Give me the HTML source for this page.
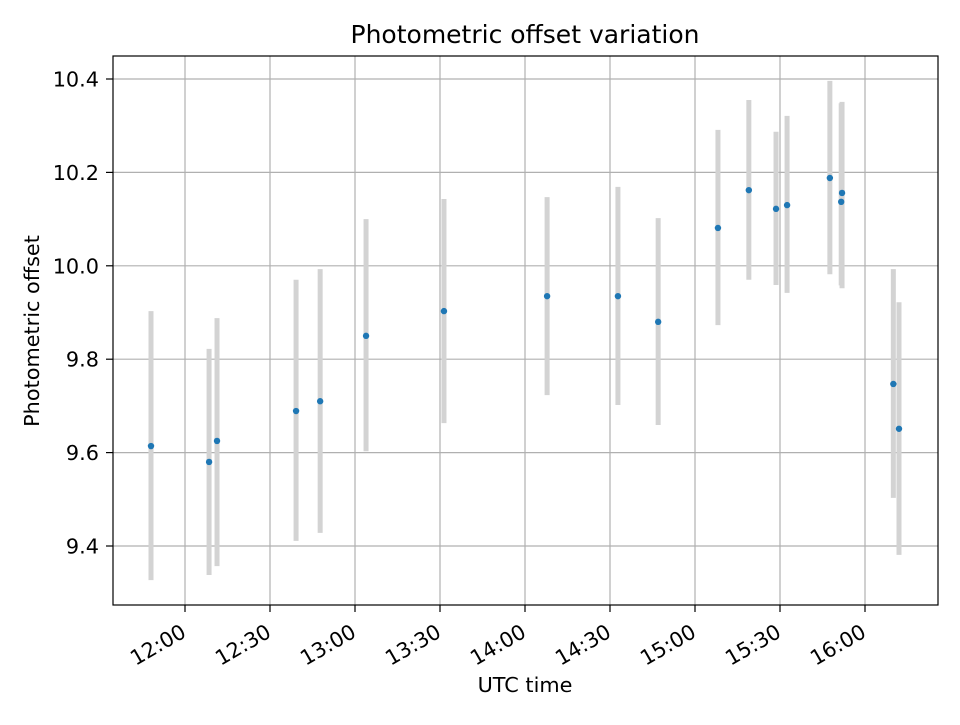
<!DOCTYPE html>
<html><head><meta charset="utf-8"><style>
body{margin:0;background:#fff;font-family:"Liberation Sans","DejaVu Sans",sans-serif}
</style></head><body>
<svg width="960" height="720" xmlns="http://www.w3.org/2000/svg" font-family="'DejaVu Sans','Liberation Sans',sans-serif">
<rect width="960" height="720" fill="#fff"/>
<g id="grid"></g><g id="bars"></g><g id="pts"></g>
<rect x="113" y="56" width="825" height="549" fill="none" stroke="#000" stroke-width="1.2"/>
<g id="axes"></g>
<text x="525" y="43" text-anchor="middle" font-size="25">Photometric offset variation</text>
<text x="525" y="692" text-anchor="middle" font-size="20.8">UTC time</text>
<text transform="translate(39,331) rotate(-90)" text-anchor="middle" font-size="20.8">Photometric offset</text>
</svg>
<script>
// minutes after 12:00 UTC
const times=[-12,8.5,11.3,39.2,47.7,63.9,91.4,127.8,152.8,167,188.1,199,208.6,212.5,227.6,231.9,231.6,250,252];
const values=[9.614,9.580,9.625,9.689,9.710,9.850,9.903,9.935,9.935,9.880,10.081,10.162,10.122,10.130,10.188,10.156,10.137,9.747,9.651];
const lows=[9.327,9.338,9.357,9.411,9.428,9.603,9.663,9.723,9.702,9.659,9.873,9.970,9.959,9.942,9.982,9.952,9.958,9.503,9.381];
const highs=[9.903,9.822,9.888,9.970,9.993,10.100,10.143,10.147,10.169,10.102,10.291,10.355,10.287,10.321,10.396,10.351,10.348,9.993,9.922];
const yTicks=[9.4,9.6,9.8,10.0,10.2,10.4];
const xTickMins=[0,30,60,90,120,150,180,210,240];
const xTickLabels=["12:00","12:30","13:00","13:30","14:00","14:30","15:00","15:30","16:00"];
const NS="http://www.w3.org/2000/svg";
const X=m=>185+m*(680/240);
const Y=v=>79+(10.4-v)*467;
function mk(tag,attrs,parent,text){const e=document.createElementNS(NS,tag);for(const k in attrs)e.setAttribute(k,attrs[k]);if(text!==undefined)e.textContent=text;document.getElementById(parent).appendChild(e);return e;}
yTicks.forEach((t,i)=>{
 const y=Y(t);
 const g=mk('line',{x1:113,x2:938,y1:y,y2:y,stroke:'#b0b0b0','stroke-width':1.2},'grid');
 
 
 const tk=mk('line',{x1:106,x2:113,y1:y,y2:y,stroke:'#000','stroke-width':1.2},'axes');
 
 
 const l=mk('text',{x:99,y:y+7.5,'text-anchor':'end','font-size':20.8},'axes',t.toFixed(1));
 
 
});
xTickMins.forEach((m,i)=>{
 const x=X(m);
 const g=mk('line',{x1:x,x2:x,y1:56,y2:605,stroke:'#b0b0b0','stroke-width':1.2},'grid');
 
 
 const tk=mk('line',{x1:x,x2:x,y1:605,y2:612,stroke:'#000','stroke-width':1.2},'axes');
 
 
 const l=mk('text',{transform:`translate(${x+2.5},636) rotate(-30)`,'text-anchor':'end','font-size':20.8},'axes',xTickLabels[i]);
 
 
});
times.forEach((m,i)=>{
 const x=X(m);
 const b=mk('line',{x1:x,x2:x,y1:Y(highs[i]),y2:Y(lows[i]),stroke:'#d3d3d3','stroke-width':5},'bars');
 
 
 const p=mk('circle',{cx:x,cy:Y(values[i]),r:3.2,fill:'#1f77b4'},'pts');
 
 
});
</script>
</body></html>
